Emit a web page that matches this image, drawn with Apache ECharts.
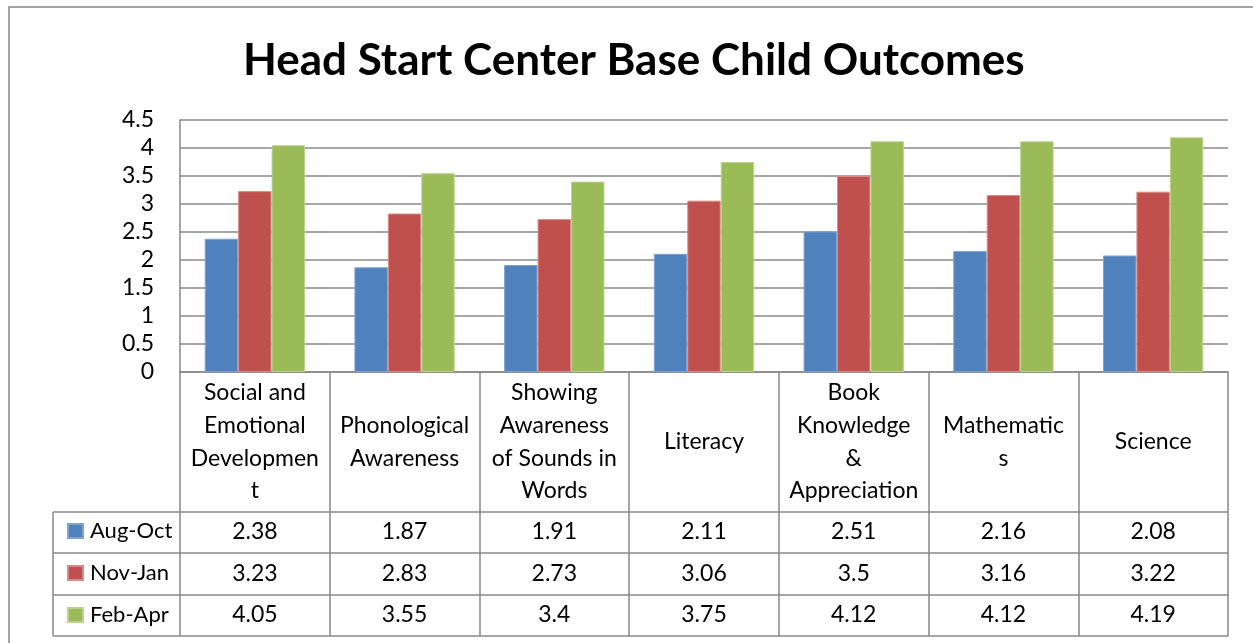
<!DOCTYPE html>
<html><head><meta charset="utf-8">
<script src="https://cdn.jsdelivr.net/npm/echarts@6/dist/echarts.min.js"></script>
<style>html,body{margin:0;padding:0;background:#fff}#c{width:1253px;height:643px}</style>
</head><body><div id="c"></div>
<script>
const categories = ["Social and\nEmotional\nDevelopmen\nt", "Phonological\nAwareness", "Showing\nAwareness\nof Sounds in\nWords", "Literacy", "Book\nKnowledge\n&\nAppreciation", "Mathematic\ns", "Science"];
const seriesNames = ["Aug-Oct", "Nov-Jan", "Feb-Apr"];
const augOct = [2.38, 1.87, 1.91, 2.11, 2.51, 2.16, 2.08];
const novJan = [3.23, 2.83, 2.73, 3.06, 3.5, 3.16, 3.22];
const febApr = [4.05, 3.55, 3.4, 3.75, 4.12, 4.12, 4.19];
const colors = ["#4F81BD", "#C0504D", "#9BBB59"];
const borderColors = ["#7FA3D0", "#D88A88", "#BCD38E"];

const FONT = "Lato";
const FS = 23;
const LINE = "#888888";
const allSeries = [augOct, novJan, febApr];
const rowMargins = [160, 202, 243];

const chart = echarts.init(document.getElementById('c'));
const xAxes = [{
  type: 'category', gridIndex: 0, data: categories, position: 'bottom',
  axisLine: {show: true, lineStyle: {color: LINE, width: 1.5}},
  axisTick: {show: true, length: 264, alignWithLabel: false, lineStyle: {color: LINE, width: 1.5}},
  axisLabel: {interval: 0, margin: 70, verticalAlign: 'middle', align: 'center', color: '#000',
    fontFamily: FONT, fontSize: FS, lineHeight: 32.7}
}];
allSeries.forEach((vals, i) => {
  xAxes.push({
    type: 'category', gridIndex: 0, data: vals.map(v => String(v)), position: 'bottom',
    axisLine: {show: false}, axisTick: {show: false},
    axisLabel: {interval: 0, margin: rowMargins[i], verticalAlign: 'middle', align: 'center', color: '#000',
      fontFamily: FONT, fontSize: FS}
  });
});

const hLines = [512, 553, 595, 636].map(y => ({
  type: 'line', shape: {x1: 53, y1: y, x2: 1228, y2: y}, style: {stroke: LINE, lineWidth: 1.5}, silent: true
}));

chart.setOption({
  backgroundColor: '#fff',
  animation: false,
  title: {text: 'Head Start Center Base Child Outcomes', left: 238, top: 34,
    textStyle: {fontFamily: FONT, fontWeight: 'bold', fontSize: 44, color: '#000'}},
  legend: {orient: 'vertical', left: 62, top: 511, itemWidth: 15, itemHeight: 14, itemGap: 12,
    icon: 'rect', data: seriesNames,
    textStyle: {fontFamily: FONT, fontSize: 22, color: '#000', lineHeight: 30, padding: [0,0,0,2]}},
  grid: {left: 180, top: 120, width: 1048, height: 252, containLabel: false},
  xAxis: xAxes,
  yAxis: {type: 'value', min: 0, max: 4.5, interval: 0.5,
    axisLine: {show: true, lineStyle: {color: LINE, width: 1.5}},
    axisTick: {show: false},
    splitLine: {lineStyle: {color: LINE, width: 1.5}},
    axisLabel: {margin: 26, color: '#000', fontFamily: FONT, fontSize: FS}},
  series: allSeries.map((vals, i) => ({
    name: seriesNames[i], type: 'bar', data: vals, xAxisIndex: 0,
    barGap: '0%', barCategoryGap: '33%',
    itemStyle: {color: colors[i], borderColor: borderColors[i], borderWidth: 1}
  })),
  graphic: [
    {type: 'rect', shape: {x: 9, y: 7, width: 1400, height: 800}, style: {fill: 'none', stroke: LINE, lineWidth: 1.5}, silent: true, z: 100},
    {type: 'line', shape: {x1: 53, y1: 512, x2: 53, y2: 636}, style: {stroke: LINE, lineWidth: 1.5}, silent: true}
  ].concat(hLines)
});
</script></body></html>
